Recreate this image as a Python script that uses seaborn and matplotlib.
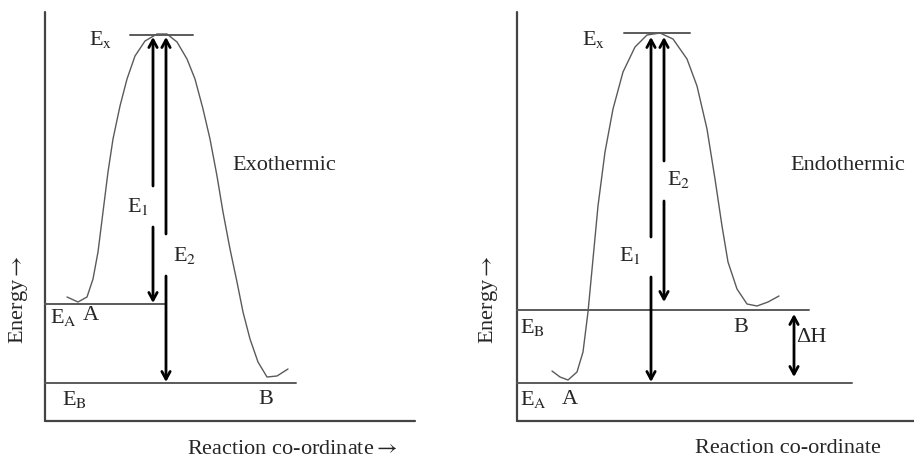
import numpy as np
import pandas as pd
import matplotlib
matplotlib.use('Agg')
import matplotlib.pyplot as plt
import seaborn as sns

# ---- data (reaction co-ordinate / energy, arbitrary units) ----
exo_curve_x = [22, 33, 42, 48, 53, 58, 63, 68, 75, 82, 90, 100, 112, 122, 132, 142, 150, 158,
               165, 172, 178, 185, 192, 198, 205, 213, 222, 232, 243]
exo_curve_y = [124, 119, 124, 142, 169, 209, 249, 282, 315, 342, 365, 380, 387, 387, 379, 362, 342, 312,
               282, 245, 209, 172, 139, 109, 82, 59, 44, 45, 52]
exo_levels = {'Ex': 386, 'EA': 117, 'EB': 38}

endo_curve_x = [35, 43, 51, 60, 66, 71, 76, 81, 88, 96, 106, 118, 130, 143, 156, 170, 180, 190,
                198, 205, 211, 220, 230, 240, 251, 262]
endo_curve_y = [50, 44, 41, 49, 69, 109, 162, 215, 269, 312, 349, 374, 386, 388, 382, 362, 335, 292,
                242, 195, 159, 132, 117, 115, 119, 125]
endo_levels = {'Ex': 388, 'EA': 38, 'EB': 111}

sns.set_style('white')
plt.rcParams['font.family'] = ['Liberation Serif', 'DejaVu Serif']
plt.rcParams['mathtext.fontset'] = 'stix'

LINE = '#5a5a5a'
AXIS = '#444444'
FS = 16

fig = plt.figure(figsize=(9.14, 4.6), dpi=100)
ax_exo = fig.add_axes([0, 0, 0.5, 1])
ax_endo = fig.add_axes([0.5, 0, 0.5, 1])
ax_exo.set_xlim(-45, 412)
ax_endo.set_xlim(-60, 397)
for ax in (ax_exo, ax_endo):
    ax.set_ylim(-38, 422)
    ax.axis('off')
    # axes drawn as plain lines
    ax.plot([0, 0], [0, 409], color=AXIS, lw=1.6)


def arrow(ax, x, y0, y1, style='->'):
    ax.annotate('', xy=(x, y1), xytext=(x, y0),
                arrowprops=dict(arrowstyle=style + ',head_length=0.55,head_width=0.3',
                                lw=2, color='black', shrinkA=0, shrinkB=0))


def line(ax, x0, x1, y):
    ax.plot([x0, x1], [y, y], color=LINE, lw=1.4)


# ---------------- Exothermic ----------------
ax = ax_exo
ax.plot([0, 370], [0, 0], color=AXIS, lw=1.6)
sns.lineplot(x=exo_curve_x, y=exo_curve_y, ax=ax, color=LINE, lw=1.0, sort=False)
line(ax, 85, 148, exo_levels['Ex'])
line(ax, 0, 121, exo_levels['EA'])
line(ax, 0, 251, exo_levels['EB'])
# E1 : Ex -> EA
arrow(ax, 108, 235, exo_levels['Ex'] - 2)
arrow(ax, 108, 194, exo_levels['EA'] + 1)
# E2 : Ex -> EB
arrow(ax, 121, 187, exo_levels['Ex'] - 2)
arrow(ax, 121, 145, exo_levels['EB'] + 1)

ax.text(67, 383, r'E$_\mathrm{x}$', fontsize=FS, ha='right', va='center')
ax.text(93, 215, r'E$_1$', fontsize=FS, ha='center', va='center')
ax.text(140, 167, r'E$_2$', fontsize=FS, ha='center', va='center')
ax.text(187, 257, 'Exothermic', fontsize=FS, ha='left', va='center')
ax.text(5, 104, r'E$_\mathrm{A}$', fontsize=FS, ha='left', va='center')
ax.text(46, 107, 'A', fontsize=FS, ha='center', va='center')
ax.text(17, 22, r'E$_\mathrm{B}$', fontsize=FS, ha='left', va='center')
ax.text(221, 22, 'B', fontsize=FS, ha='center', va='center')
ax.text(-26, 122, r'Energy$\rightarrow$', fontsize=FS, rotation=90, ha='center', va='center')
ax.text(247, -28, r'Reaction co-ordinate$\rightarrow$', fontsize=FS, ha='center', va='center')

# ---------------- Endothermic ----------------
ax = ax_endo
ax.plot([0, 397], [0, 0], color=AXIS, lw=1.6)
sns.lineplot(x=endo_curve_x, y=endo_curve_y, ax=ax, color=LINE, lw=1.0, sort=False)
line(ax, 107, 173, endo_levels['Ex'])
line(ax, 0, 292, endo_levels['EB'])
line(ax, 0, 335, endo_levels['EA'])
# E1 : Ex -> EA
arrow(ax, 134, 184, endo_levels['Ex'] - 4)
arrow(ax, 134, 144, endo_levels['EA'] + 1)
# E2 : Ex -> EB
arrow(ax, 147, 260, endo_levels['Ex'] - 4)
arrow(ax, 147, 220, endo_levels['EB'] + 8)
# delta H
arrow(ax, 277, 44, 107, style='<->')

ax.text(88, 383, r'E$_\mathrm{x}$', fontsize=FS, ha='right', va='center')
ax.text(113, 167, r'E$_1$', fontsize=FS, ha='center', va='center')
ax.text(162, 242, r'E$_2$', fontsize=FS, ha='center', va='center')
ax.text(273, 257, 'Endothermic', fontsize=FS, ha='left', va='center')
ax.text(279, 84, 'ΔH', fontsize=FS, ha='left', va='center')
ax.text(3, 95, r'E$_\mathrm{B}$', fontsize=FS, ha='left', va='center')
ax.text(224, 95, 'B', fontsize=FS, ha='center', va='center')
ax.text(3, 22, r'E$_\mathrm{A}$', fontsize=FS, ha='left', va='center')
ax.text(53, 22, 'A', fontsize=FS, ha='center', va='center')
ax.text(-29, 122, r'Energy$\rightarrow$', fontsize=FS, rotation=90, ha='center', va='center')
ax.text(271, -27, 'Reaction co-ordinate', fontsize=FS, ha='center', va='center')

fig.savefig('out.png', dpi=100)
